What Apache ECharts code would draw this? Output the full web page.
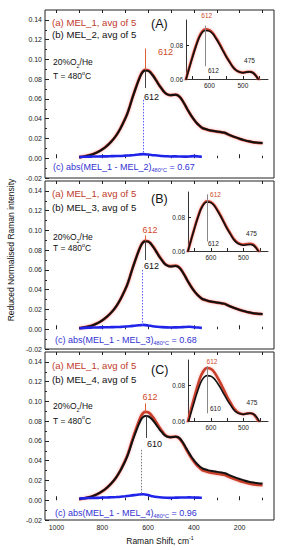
<!DOCTYPE html>
<html><head><meta charset="utf-8">
<script src="https://cdn.jsdelivr.net/npm/echarts@6/dist/echarts.min.js"></script>
<style>html,body{margin:0;padding:0;background:#fff}#c{width:284px;height:550px}</style>
</head><body><div id="c"></div>
<script>
// Raman shift (cm-1) of the sampled points
const shift = [900,880,860,840,820,800,780,760,740,720,700,690,680,670,660,650,640,630,620,612,600,590,580,570,560,550,540,530,520,510,500,490,480,470,460,450,440,430,420,410,400,390,380,370,360,340,320,300,280,270,260,250,240,220,200,180,160,140,120,100];
// (a) MEL_1, avg of 5 (reference, red)
const mel1 = [0.0010,0.0018,0.0028,0.0042,0.0062,0.0090,0.0125,0.0170,0.0228,0.0305,0.0400,0.0455,0.0525,0.0600,0.0670,0.0737,0.0800,0.0853,0.0885,0.0895,0.0890,0.0873,0.0843,0.0810,0.0772,0.0735,0.0703,0.0672,0.0652,0.0642,0.0638,0.0642,0.0643,0.0638,0.0617,0.0585,0.0545,0.0502,0.0462,0.0425,0.0392,0.0362,0.0338,0.0318,0.0302,0.0288,0.0278,0.0270,0.0263,0.0259,0.0252,0.0240,0.0230,0.0212,0.0196,0.0182,0.0170,0.0161,0.0155,0.0153];
// (b) MEL_2 (panel A, black)
const mel2 = [0.0008,0.0016,0.0027,0.0041,0.0061,0.0089,0.0124,0.0169,0.0227,0.0304,0.0398,0.0453,0.0522,0.0597,0.0667,0.0733,0.0795,0.0848,0.0880,0.0888,0.0884,0.0868,0.0839,0.0806,0.0769,0.0733,0.0701,0.0671,0.0651,0.0641,0.0637,0.0641,0.0642,0.0637,0.0616,0.0584,0.0545,0.0502,0.0463,0.0426,0.0393,0.0363,0.0339,0.0319,0.0303,0.0289,0.0279,0.0271,0.0264,0.0260,0.0253,0.0241,0.0231,0.0213,0.0197,0.0183,0.0171,0.0162,0.0156,0.0154];
// (b) MEL_3 (panel B, black)
const mel3 = [0.0010,0.0017,0.0027,0.0041,0.0062,0.0090,0.0126,0.0171,0.0229,0.0306,0.0401,0.0456,0.0526,0.0600,0.0669,0.0735,0.0797,0.0850,0.0882,0.0891,0.0887,0.0870,0.0840,0.0806,0.0768,0.0731,0.0699,0.0668,0.0648,0.0638,0.0634,0.0637,0.0639,0.0634,0.0614,0.0582,0.0543,0.0501,0.0461,0.0424,0.0391,0.0362,0.0338,0.0318,0.0303,0.0289,0.0279,0.0271,0.0264,0.0259,0.0252,0.0240,0.0230,0.0212,0.0196,0.0183,0.0171,0.0162,0.0156,0.0155];
// (b) MEL_4 (panel C, black)
const mel4 = [0.0012,0.0020,0.0030,0.0044,0.0064,0.0092,0.0127,0.0172,0.0229,0.0303,0.0395,0.0448,0.0515,0.0585,0.0650,0.0712,0.0770,0.0818,0.0845,0.0853,0.0850,0.0836,0.0812,0.0783,0.0750,0.0718,0.0690,0.0663,0.0647,0.0640,0.0637,0.0641,0.0643,0.0640,0.0622,0.0592,0.0554,0.0513,0.0474,0.0438,0.0406,0.0377,0.0354,0.0334,0.0319,0.0305,0.0295,0.0288,0.0281,0.0277,0.0271,0.0259,0.0249,0.0231,0.0215,0.0200,0.0188,0.0179,0.0173,0.0170];
// (c) abs differences
const diffShift = [900,880,860,840,820,800,780,760,740,720,700,680,660,640,620,600,580,560,540,520,500,480,460,440,420,400,380,365];
const diff12 = [0.0012,0.0015,0.0016,0.0017,0.0018,0.0019,0.0019,0.0021,0.0022,0.0023,0.0026,0.0029,0.0033,0.0038,0.0042,0.0037,0.0031,0.0028,0.0022,0.0020,0.0018,0.0019,0.0017,0.0016,0.0018,0.0021,0.0018,0.0015];
const diff13 = [0.0010,0.0014,0.0016,0.0017,0.0018,0.0019,0.0020,0.0021,0.0022,0.0024,0.0027,0.0030,0.0035,0.0040,0.0044,0.0038,0.0030,0.0025,0.0021,0.0019,0.0018,0.0019,0.0020,0.0023,0.0025,0.0020,0.0017,0.0014];
const diff14 = [0.0018,0.0020,0.0022,0.0023,0.0024,0.0026,0.0028,0.0030,0.0032,0.0035,0.0040,0.0046,0.0052,0.0058,0.0060,0.0052,0.0040,0.0032,0.0027,0.0025,0.0024,0.0026,0.0027,0.0028,0.0029,0.0027,0.0026,0.0025];
const diffValues = ['0.67','0.68','0.96'];
// tick labels
const xTickLabels = [200,400,600,800,1000];
const xTicksAll = [100,200,300,400,500,600,700,800,900,1000];
const xTicksMinor = [100,300,500,700,900];
const yTickLabels = [-0.02,0,0.02,0.04,0.06,0.08,0.10,0.12,0.14];
const yTicksMinor = [-0.01,0.01,0.03,0.05,0.07,0.09,0.11,0.13];
const insetXLabels = [500,600];
const insetXMinor = [450,550,650];
const insetYLabels = [0.06,0.08];

const FONT = '"Liberation Sans", Arial, sans-serif';
const pair = (xs, ys) => xs.map((x, i) => [x, ys[i]]);

const mainTops = [10, 181, 352];
const mainH = 168;
const insetRects = [
  {left:186, top:20, width:82, height:59, max:0.095},
  {left:188, top:192, width:80, height:59, max:0.095},
  {left:188, top:360, width:80, height:61, max:0.094}
];
const blacks = [mel2, mel3, mel4];
const diffs = [diff12, diff13, diff14];
const names = ['MEL_2','MEL_3','MEL_4'];
const letters = ['(A)','(B)','(C)'];
const peakBlack = [612, 612, 610];
const redLines = [[0.0895,0.111],[0.0895,0.095],[0.0895,0.098]];
const blackLines = [[0.0888,0.071],[0.0891,0.070],[0.0853,0.063]];
const dotLines = [[622,0.059,0.005,'#5a5aff'],[624,0.060,0.004,'#5a5aff'],[630,0.051,0.006,'#777']];
const insetLines = [[0.0917,0.0676],[0.0936,0.0656],[0.0905,0.0643]];

const grid = [], xAxis = [], yAxis = [], series = [];
const tickStyle = {color:'#222', width:1};

// main grids 0..2
mainTops.forEach((t, i) => {
  grid.push({left:45, top:t, width:229, height:mainH, show:true, borderColor:'#222', borderWidth:1, backgroundColor:'transparent'});
  xAxis.push({type:'value', gridIndex:i, min:50, max:1050, inverse:true, position:'bottom',
    axisLine:{show:false}, splitLine:{show:false},
    axisTick:{show:true, inside:true, length:4, lineStyle:tickStyle, customValues:xTickLabels},
    axisLabel:{show:i===2, margin:4, fontSize:7, color:'#222', fontFamily:FONT, customValues:xTickLabels,
      formatter:v => String(v)}});
  yAxis.push({type:'value', gridIndex:i, min:-0.02, max:0.15, position:'left',
    axisLine:{show:false}, splitLine:{show:false},
    axisTick:{show:true, inside:true, length:4, lineStyle:tickStyle, customValues:yTickLabels},
    axisLabel:{show:true, margin:3, fontSize:7, color:'#222', fontFamily:FONT, customValues:yTickLabels,
      formatter:v => v.toFixed(2)}});
});
// inset grids 3..5
insetRects.forEach((r, i) => {
  grid.push({left:r.left, top:r.top, width:r.width, height:r.height, show:false});
  xAxis.push({type:'value', gridIndex:3+i, min:425, max:670, inverse:true, position:'bottom',
    axisLine:{show:true, lineStyle:{color:'#333', width:1}}, splitLine:{show:false},
    axisTick:{show:true, inside:true, length:3, lineStyle:tickStyle, customValues:insetXLabels.concat(insetXMinor)},
    axisLabel:{show:true, margin:3, fontSize:6.5, color:'#222', fontFamily:FONT, customValues:insetXLabels,
      formatter:v => String(v)}});
  yAxis.push({type:'value', gridIndex:3+i, min:0.06, max:r.max, position:'left',
    axisLine:{show:true, lineStyle:{color:'#333', width:1}}, splitLine:{show:false},
    axisTick:{show:true, inside:true, length:3, lineStyle:tickStyle, customValues:insetYLabels},
    axisLabel:{show:true, margin:3, fontSize:6.5, color:'#222', fontFamily:FONT, customValues:insetYLabels,
      formatter:v => v.toFixed(2)}});
});
// overlay grids 6..8 for minor ticks
mainTops.forEach((t, i) => {
  grid.push({left:45, top:t, width:229, height:mainH, show:false});
  xAxis.push({type:'value', gridIndex:6+i, min:50, max:1050, inverse:true, position:'bottom',
    axisLine:{show:false}, splitLine:{show:false}, axisLabel:{show:false},
    axisTick:{show:true, inside:true, length:2.5, lineStyle:tickStyle, customValues:xTicksMinor}});
  xAxis.push({type:'value', gridIndex:6+i, min:50, max:1050, inverse:true, position:'top',
    axisLine:{show:false}, splitLine:{show:false}, axisLabel:{show:false},
    axisTick:{show:true, inside:true, length:3, lineStyle:tickStyle, customValues:xTicksAll}});
  yAxis.push({type:'value', gridIndex:6+i, min:-0.02, max:0.15, position:'left',
    axisLine:{show:false}, splitLine:{show:false}, axisLabel:{show:false},
    axisTick:{show:true, inside:true, length:2, lineStyle:tickStyle, customValues:yTicksMinor}});
});

const redStyle = {color:'#c8402a', width:2.8, shadowColor:'rgba(255,110,110,0.45)', shadowBlur:3};
const blackStyle = {color:'#111', width:2};
for (let i = 0; i < 3; i++) {
  series.push({type:'line', xAxisIndex:i, yAxisIndex:i, data:pair(shift, mel1), showSymbol:false, symbol:'none',
    smooth:0.3, lineStyle:redStyle, z:2,
    markLine:{symbol:'none', silent:true, label:{show:false}, lineStyle:{color:'#e0603a', width:1, type:'solid'},
      data:[[{coord:[612, redLines[i][0]]},{coord:[612, redLines[i][1]]}]]}});
  series.push({type:'line', xAxisIndex:i, yAxisIndex:i, data:pair(shift, blacks[i]), showSymbol:false, symbol:'none',
    smooth:0.3, lineStyle:blackStyle, z:3,
    markLine:{symbol:'none', silent:true, label:{show:false}, lineStyle:{color:'#444', width:1, type:'solid'},
      data:[[{coord:[peakBlack[i], blackLines[i][0]]},{coord:[peakBlack[i], blackLines[i][1]]}]]}});
  series.push({type:'line', xAxisIndex:i, yAxisIndex:i, data:pair(diffShift, diffs[i]), showSymbol:false, symbol:'none',
    smooth:0.2, lineStyle:{color:'#1f24e8', width:2.6}, z:4,
    markLine:{symbol:'none', silent:true, label:{show:false}, lineStyle:{color:dotLines[i][3], width:1, type:[1.5,1.5]},
      data:[[{coord:[dotLines[i][0], dotLines[i][1]]},{coord:[dotLines[i][0], dotLines[i][2]]}]]}});
  // insets
  series.push({type:'line', xAxisIndex:3+i, yAxisIndex:3+i, data:pair(shift, mel1), showSymbol:false, symbol:'none',
    smooth:0.3, clip:true, lineStyle:{color:'#c8402a', width:2.6, shadowColor:'rgba(255,110,110,0.45)', shadowBlur:3}, z:2});
  series.push({type:'line', xAxisIndex:3+i, yAxisIndex:3+i, data:pair(shift, blacks[i]), showSymbol:false, symbol:'none',
    smooth:0.3, clip:true, lineStyle:{color:'#111', width:1.6}, z:3,
    markLine:{symbol:'none', silent:true, label:{show:false}, lineStyle:{color:'#888', width:1, type:'solid'},
      data:[[{coord:[611, insetLines[i][0]]},{coord:[611, insetLines[i][1]]}]]}});
}

const txt = (x, y, text, size, color, align, extra) => Object.assign({type:'text', x:x, y:y, silent:true, z:50,
  style:{text:text, fontSize:size, fontFamily:FONT, fill:color, align:align||'left', verticalAlign:'middle'}}, extra||{});
const richTxt = (x, y, text, rich, color, align) => ({type:'text', x:x, y:y, silent:true, z:50,
  style:{text:text, rich:rich, fontFamily:FONT, fill:color, align:align||'left', verticalAlign:'middle'}});

const graphic = [];
const legA = [22, 193, 365], legB = [34.5, 207, 379], letY = [24, 198.5, 370];
const o2Y = [62, 237, 406], tY = [76, 248, 420.5];
const redLab = [[158,52,'left'],[150,230,'center'],[150,396.5,'center']];
const blackLab = [[144,97],[144,266],[147,444]];
const blueY = [167, 339.5, 513];
const inRed = [[206.7,15.5],[215.5,194],[212,361]];
const inBlack = [[208,70],[208,243.5],[210,408]];
const in475 = [[249.5,60.5],[251.5,233.5],[252,402.5]];
const richN = (fs) => ({n:{fontSize:fs, fontFamily:FONT, lineHeight:12, verticalAlign:'middle'},
  sub:{fontSize:fs*0.62, fontFamily:FONT, lineHeight:12, verticalAlign:'bottom'},
  sup:{fontSize:fs*0.62, fontFamily:FONT, lineHeight:12, verticalAlign:'top'}});
for (let i = 0; i < 3; i++) {
  graphic.push(txt(52, legA[i], '(a) MEL_1, avg of 5', 9.6, '#c0392b'));
  graphic.push(txt(52, legB[i], '(b) ' + names[i] + ', avg of 5', 9.6, '#111'));
  graphic.push(txt(151, letY[i], letters[i], 12.5, '#111'));
  graphic.push(richTxt(53, o2Y[i], '{n|20%O}{sub|2}{n|/He}', richN(8.5), '#111'));
  graphic.push(richTxt(53, tY[i], '{n|T = 480}{sup|o}{n|C}', richN(8.5), '#111'));
  graphic.push(txt(redLab[i][0], redLab[i][1], '612', 9, '#d04a2a', redLab[i][2]));
  graphic.push(txt(blackLab[i][0], blackLab[i][1], String(peakBlack[i]), 9, '#111'));
  graphic.push(richTxt(i === 0 ? 53 : 55, blueY[i], '{n|(c) abs(MEL_1 - ' + names[i] + ')}{sub|480°C}{n| = ' + diffValues[i] + '}', richN(9), '#3232d2'));
  graphic.push(txt(inRed[i][0], inRed[i][1], '612', 6.5, '#d04a2a', 'center'));
  graphic.push(txt(inBlack[i][0], inBlack[i][1], String(peakBlack[i]), 6.5, '#222'));
  graphic.push(txt(in475[i][0], in475[i][1], '475', 6.5, '#222', 'center'));
}
graphic.push(richTxt(160, 541, '{n|Raman Shift, cm}{sup|-1}', richN(8.5), '#111', 'center'));
graphic.push({type:'text', x:11, y:250, rotation:Math.PI/2, silent:true, z:50,
  style:{text:'Reduced Normalised Raman intensity', fontSize:8.5, fontFamily:FONT, fill:'#111', align:'center', verticalAlign:'middle'}});

const chart = echarts.init(document.getElementById('c'), null, {renderer:'svg'});
chart.setOption({animation:false, backgroundColor:'#fff', grid:grid, xAxis:xAxis, yAxis:yAxis, series:series, graphic:graphic});
</script></body></html>
